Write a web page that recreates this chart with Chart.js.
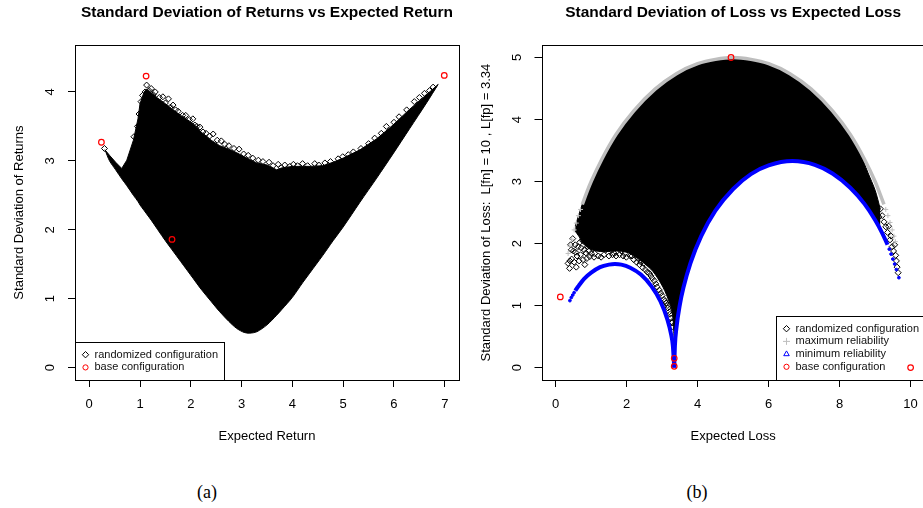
<!DOCTYPE html>
<html>
<head>
<meta charset="utf-8">
<script src="https://cdn.jsdelivr.net/npm/chart.js@4.4.1/dist/chart.umd.min.js"></script>
<style>
  html, body { margin: 0; padding: 0; background: #fff; overflow: hidden; width: 923px; height: 508px; }
  canvas { position: absolute; top: 0; }
  #ret { left: 0; }
  #loss { left: 470px; }
  .cap { position: absolute; top: 481px; width: 60px; margin-left: -30px; text-align: center;
         font-family: "Liberation Serif", "DejaVu Serif", serif; font-size: 18px; line-height: 22px; color: #000; }
</style>
</head>
<body>
<canvas id="ret" width="470" height="460"></canvas>
<canvas id="loss" width="460" height="460"></canvas>
<div class="cap" style="left:207px">(a)</div>
<div class="cap" style="left:697px">(b)</div>
<script>
// ---- (a) returns ----
const retTicksX = [0, 1, 2, 3, 4, 5, 6, 7];
const retTicksY = [0, 1, 2, 3, 4];
// outline of the dense cloud of randomized configurations (upper and lower edge at the same x)
const retCloudX = [0.31, 0.40, 0.52, 0.64, 0.74, 0.87, 0.96, 1.00, 1.08, 1.13, 1.22, 1.35, 1.50, 1.62, 1.80,
  2.05, 2.20, 2.40, 2.57, 2.75, 2.90, 3.05, 3.16, 3.30, 3.50, 3.69, 3.80, 4.00, 4.20, 4.34,
  4.60, 4.80, 5.00, 5.33, 5.66, 5.98, 6.31, 6.64, 6.87];
const retCloudTop = [3.16, 3.08, 2.98, 2.89, 3.01, 3.30, 3.61, 3.83, 4.00, 4.04, 3.99, 3.91, 3.83, 3.76, 3.66,
  3.54, 3.42, 3.30, 3.22, 3.17, 3.12, 3.06, 3.02, 2.97, 2.94, 2.87, 2.90, 2.92, 2.92, 2.92,
  2.93, 2.98, 3.04, 3.16, 3.32, 3.52, 3.75, 3.96, 4.11];
const retCloudBottom = [3.16, 3.00, 2.87, 2.74, 2.64, 2.50, 2.41, 2.36, 2.28, 2.23, 2.14, 2.00, 1.84, 1.72, 1.54,
  1.29, 1.14, 0.96, 0.81, 0.67, 0.57, 0.51, 0.50, 0.52, 0.62, 0.76, 0.85, 1.02, 1.23, 1.37,
  1.63, 1.84, 2.04, 2.40, 2.75, 3.10, 3.47, 3.84, 4.11];
// loose points along the ragged top of the cloud
const retFringeX = [0.30, 0.88, 0.95, 0.98, 1.02, 1.05, 1.10, 1.13, 1.18, 1.22, 1.26, 1.30, 1.38, 1.45, 1.50,
  1.56, 1.60, 1.65, 1.70, 1.75, 1.84, 1.90, 1.97, 2.04, 2.08, 2.12, 2.18, 2.24, 2.30, 2.37, 2.44,
  2.52, 2.60, 2.67, 2.75, 2.85, 2.95, 3.04, 3.13, 3.22, 3.33, 3.42, 3.54, 3.62, 3.72, 3.78, 3.85,
  3.95, 4.02, 4.10, 4.20, 4.30, 4.44, 4.52, 4.64, 4.75, 4.90, 4.99, 5.10, 5.20, 5.35, 5.50, 5.62,
  5.75, 5.85, 6.00, 6.10, 6.25, 6.40, 6.50, 6.60, 6.70, 6.77];
const retFringeY = [3.18, 3.35, 3.50, 3.68, 3.86, 3.95, 4.00, 4.10, 4.02, 4.05, 3.96, 4.00, 3.92, 3.93, 3.84,
  3.90, 3.78, 3.81, 3.74, 3.72, 3.66, 3.66, 3.60, 3.61, 3.52, 3.50, 3.49, 3.42, 3.40, 3.36, 3.39,
  3.30, 3.29, 3.24, 3.22, 3.18, 3.17, 3.10, 3.08, 3.04, 3.01, 2.99, 2.98, 2.93, 2.95, 2.90, 2.94,
  2.92, 2.95, 2.93, 2.96, 2.93, 2.96, 2.94, 2.97, 2.99, 3.03, 3.06, 3.09, 3.13, 3.18, 3.25, 3.33,
  3.40, 3.50, 3.56, 3.64, 3.74, 3.86, 3.92, 3.98, 4.02, 4.07];
const retBaseX = [0.24, 1.12, 1.63, 6.99];
const retBaseY = [3.27, 4.23, 1.86, 4.24];

// ---- (b) losses ----
const lossTicksX = [0, 2, 4, 6, 8, 10];
const lossTicksY = [0, 1, 2, 3, 4, 5];
const lossCloudX = [0.55, 0.65, 0.77, 0.95, 1.14, 1.40, 1.71, 2.00, 2.17, 2.45, 2.74, 3.02, 3.21, 3.30, 3.35,
  3.45, 3.60, 3.80, 4.00, 4.30, 4.60, 5.00, 5.50, 6.00, 6.67, 7.30, 7.80, 8.30, 8.55, 8.80, 9.00, 9.15];
const lossCloudTop = [2.28, 2.46, 2.67, 2.93, 3.18, 3.47, 3.77, 4.00, 4.12, 4.30, 4.46, 4.59, 4.67, 4.70, 4.72,
  4.75, 4.80, 4.85, 4.90, 4.95, 4.98, 5.00, 4.97, 4.90, 4.71, 4.44, 4.14, 3.76, 3.50, 3.14, 2.86, 2.55];
const lossCloudBottom = [2.20, 2.12, 2.00, 1.92, 1.88, 1.87, 1.88, 1.86, 1.81, 1.70, 1.55, 1.30, 1.04, 0.82, 0.45,
  0.85, 1.29, 1.69, 1.99, 2.34, 2.61, 2.88, 3.12, 3.26, 3.33, 3.27, 3.13, 2.90, 2.75, 2.56, 2.38, 2.22];
const lossFringeX = [0.35, 0.39, 0.40, 0.42, 0.44, 0.45, 0.48, 0.50, 0.52, 0.55, 0.56, 0.58, 0.60, 0.63, 0.66,
  0.68, 0.70, 0.72, 0.75, 0.77, 0.80, 0.82, 0.85, 0.88, 0.90, 0.93, 0.96, 1.00, 1.05, 1.08, 1.10,
  1.15, 1.20, 1.24, 1.28, 1.32, 1.36, 1.42, 1.46, 1.50, 1.55, 1.60, 1.65, 1.70, 1.75, 1.80, 1.85,
  1.90, 1.95, 1.99, 2.05, 2.10, 2.15, 2.20, 2.24, 2.28, 2.32, 2.36, 2.40, 2.45, 2.48, 2.52, 2.58,
  2.64, 2.68, 2.72, 2.78, 2.82, 2.86, 2.92, 2.96, 3.00, 3.05, 3.08, 3.11, 3.14, 3.16, 3.20, 3.22,
  3.24, 3.27, 3.28, 3.30,
  8.88, 8.95, 9.02, 9.11, 9.15, 9.20, 9.25, 9.30, 9.35, 9.38, 9.42, 9.45, 9.48, 9.52, 9.55, 9.58,
  9.60, 9.62, 9.65];
const lossFringeY = [1.68, 1.60, 1.72, 1.98, 1.90, 1.75, 2.08, 1.88, 1.70, 1.98, 1.86, 1.62, 1.80, 1.95, 1.72,
  2.02, 1.82, 1.93, 2.05, 1.74, 1.90, 1.66, 1.85, 1.76, 1.95, 1.88, 1.79, 1.84, 1.92, 1.78, 1.84,
  1.95, 1.80, 1.92, 1.78, 1.96, 1.82, 1.90, 1.97, 1.80, 1.90, 1.82, 1.84, 1.80, 1.96, 1.82, 1.88,
  1.80, 1.84, 1.78, 1.92, 1.80, 1.80, 1.74, 1.84, 1.70, 1.76, 1.66, 1.70, 1.61, 1.68, 1.58, 1.54,
  1.52, 1.48, 1.44, 1.40, 1.35, 1.30, 1.25, 1.20, 1.16, 1.10, 1.07, 1.04, 1.00, 0.96, 0.90, 0.86,
  0.80, 0.74, 0.72, 0.66,
  2.59, 2.70, 2.52, 2.43, 2.56, 2.45, 2.35, 2.27, 2.18, 2.28, 2.06, 2.12, 1.95, 1.88, 1.98, 1.81,
  1.72, 1.62, 1.53];
const maxRelX = [0.75, 0.90, 1.00, 1.30, 1.70, 2.20, 2.80, 3.40, 4.00, 4.50, 5.00, 5.50, 6.00, 6.60, 7.20,
  7.80, 8.30, 8.70, 9.00, 9.25];
const maxRelY = [2.63, 2.86, 3.00, 3.36, 3.76, 4.14, 4.49, 4.74, 4.90, 4.97, 5.00, 4.97, 4.90, 4.74, 4.49,
  4.14, 3.76, 3.36, 3.00, 2.63];
const maxRelTailX = [0.35, 0.40, 0.45, 0.52, 0.58, 0.64, 0.70, 9.30, 9.36, 9.42, 9.48, 9.53, 9.57];
const maxRelTailY = [1.84, 1.96, 2.07, 2.22, 2.33, 2.45, 2.55, 2.55, 2.45, 2.34, 2.22, 2.12, 2.03];
const minRelAX = [0.55, 0.65, 0.80, 1.00, 1.25, 1.50, 1.67, 1.85, 2.10, 2.40, 2.70, 2.95, 3.15, 3.25, 3.30, 3.34];
const minRelAY = [1.24, 1.32, 1.43, 1.53, 1.62, 1.66, 1.67, 1.66, 1.61, 1.50, 1.31, 1.07, 0.77, 0.54, 0.36, 0.00];
const minRelBX = [3.34, 3.36, 3.40, 3.50, 3.60, 3.80, 4.10, 4.50, 5.00, 5.50, 6.00, 6.67, 7.30, 7.80, 8.30,
  8.70, 9.00, 9.20, 9.35];
const minRelBY = [0.00, 0.36, 0.63, 1.02, 1.29, 1.69, 2.12, 2.53, 2.88, 3.12, 3.26, 3.33, 3.27, 3.13, 2.90,
  2.64, 2.38, 2.17, 1.98];
const minRelTailX = [0.40, 0.44, 0.48, 0.52, 9.40, 9.45, 9.50, 9.55, 9.60, 9.67];
const minRelTailY = [1.08, 1.13, 1.17, 1.21, 1.91, 1.83, 1.75, 1.67, 1.58, 1.45];
const lossBaseX = [4.94, 0.13, 3.34, 3.34, 10.0];
const lossBaseY = [5.00, 1.14, 0.15, 0.02, 0.00];

Chart.defaults.font.family = '"Liberation Sans", Arial, Helvetica, sans-serif';
Chart.defaults.color = '#000';

function pts(xs, ys) {
  return xs.map((x, i) => ({x: x, y: ys[i]}));
}

// R style box round the plot region
const frameBox = {
  id: 'frameBox',
  afterDatasetsDraw(chart) {
    const {ctx, chartArea: a} = chart;
    const l = Math.round(a.left), t = Math.round(a.top);
    ctx.save();
    ctx.strokeStyle = '#000';
    ctx.lineWidth = 1;
    ctx.strokeRect(l + 0.5, t + 0.5, Math.round(a.right) - l, Math.round(a.bottom) - t);
    ctx.restore();
  }
};

// boxed legend sitting in a bottom corner of the plot, like legend("bottomleft") in R
const rLegend = {
  id: 'rLegend',
  beforeDatasetsDraw(chart, args, opts) {
    const {ctx, chartArea: a} = chart;
    const row = 12.7;
    ctx.save();
    ctx.font = '11px "Liberation Sans", Arial, sans-serif';
    const textW = Math.max(...opts.items.map(it => ctx.measureText(it.text).width));
    const w = Math.round(textW + 25), h = Math.round(row * (opts.items.length + 1));
    const x0 = Math.round(opts.corner === 'right' ? a.right - w : a.left);
    const y0 = Math.round(a.bottom - h);
    ctx.fillStyle = '#fff';
    ctx.fillRect(x0, y0, w, h);
    ctx.strokeStyle = '#000';
    ctx.lineWidth = 1;
    ctx.strokeRect(x0 + 0.5, y0 + 0.5, w, h);
    opts.items.forEach((it, i) => {
      const cy = y0 + row * (i + 1);
      ctx.strokeStyle = it.color;
      ctx.fillStyle = 'rgba(0,0,0,0)';
      ctx.lineWidth = 1;
      Chart.helpers.drawPoint(ctx, {pointStyle: it.style, radius: it.radius, borderWidth: 1, rotation: 0}, x0 + 10.5, cy);
      ctx.fillStyle = '#111';
      ctx.textAlign = 'left';
      ctx.textBaseline = 'middle';
      ctx.fillText(it.text, x0 + 19.5, cy);
    });
    ctx.restore();
  }
};

function xAxis(min, max, ticks, title) {
  return {
    type: 'linear', min: min, max: max,
    afterBuildTicks: s => { s.ticks = ticks.map(v => ({value: v})); },
    afterFit: s => { s.height = 80; },
    grid: {display: true, drawOnChartArea: false, drawTicks: true, tickLength: 7, color: '#000', lineWidth: 1},
    border: {display: false},
    ticks: {color: '#000', font: {size: 13}, padding: 10, maxRotation: 0, autoSkip: false},
    title: {display: true, text: title, color: '#000', font: {size: 13}, padding: {top: 0, bottom: 16}}
  };
}

function yAxis(min, max, ticks, title, width, titlePad) {
  return {
    type: 'linear', min: min, max: max,
    afterBuildTicks: s => { s.ticks = ticks.map(v => ({value: v})); },
    afterFit: s => { s.width = width; },
    grid: {display: true, drawOnChartArea: false, drawTicks: true, tickLength: 7, color: '#000', lineWidth: 1},
    border: {display: false},
    ticks: {color: '#000', font: {size: 13}, padding: 13.5, minRotation: 90, maxRotation: 90, crossAlign: 'center', autoSkip: false},
    title: {display: true, text: title, color: '#000', font: {size: 13}, padding: {top: titlePad, bottom: 0}}
  };
}

function baseOptions(title, padRight) {
  return {
    responsive: false,
    animation: false,
    events: [],
    layout: {padding: {left: 0, right: padRight, top: 0, bottom: 0}},
    plugins: {
      legend: {display: false},
      tooltip: {enabled: false},
      title: {display: true, fullSize: false, text: title, color: '#000',
        font: {size: 15.5, weight: 'bold'}, padding: {top: 3.5, bottom: 23}}
    }
  };
}

const hollow = 'rgba(0,0,0,0)';

const optA = baseOptions('Standard Deviation of Returns vs Expected Return', 11);
optA.scales = {
  x: xAxis(-0.28, 7.28, retTicksX, 'Expected Return'),
  y: yAxis(-0.18, 4.68, retTicksY, 'Standard Deviation of Returns', 75, 11.5)
};
optA.plugins.rLegend = {corner: 'left', items: [
  {text: 'randomized configuration', style: 'rectRot', color: '#000', radius: 3.2},
  {text: 'base configuration', style: 'circle', color: '#f00', radius: 2.6}
]};

new Chart(document.getElementById('ret'), {
  type: 'scatter',
  data: {datasets: [
    {label: 'randomized configuration', data: pts(retCloudX, retCloudTop), showLine: true, pointRadius: 0,
      borderColor: '#000', borderWidth: 1, backgroundColor: '#000', fill: '+1', order: 5},
    {label: 'randomized configuration (lower edge)', data: pts(retCloudX, retCloudBottom), showLine: true, pointRadius: 0,
      borderColor: '#000', borderWidth: 1, tension: 0.3, fill: false, order: 5},
    {label: 'randomized configuration', data: pts(retFringeX, retFringeY), pointStyle: 'rectRot', pointRadius: 3,
      pointBorderColor: '#000', pointBackgroundColor: hollow, pointBorderWidth: 1, order: 4},
    {label: 'base configuration', data: pts(retBaseX, retBaseY), pointStyle: 'circle', pointRadius: 2.8,
      pointBorderColor: '#f00', pointBackgroundColor: hollow, pointBorderWidth: 1.2, order: 1}
  ]},
  options: optA,
  plugins: [frameBox, rLegend]
});

const optB = baseOptions('Standard Deviation of Loss vs Expected Loss', 4);
optB.scales = {
  x: xAxis(-0.4, 10.4, lossTicksX, 'Expected Loss'),
  y: yAxis(-0.2, 5.2, lossTicksY, 'Standard Deviation of Loss:  L[fn] = 10 , L[fp] = 3.34', 71.5, 8.5)
};
optB.plugins.rLegend = {corner: 'right', items: [
  {text: 'randomized configuration', style: 'rectRot', color: '#000', radius: 3.2},
  {text: 'maximum reliability', style: 'cross', color: '#bebebe', radius: 3.5},
  {text: 'minimum reliability', style: 'triangle', color: '#00f', radius: 3.2},
  {text: 'base configuration', style: 'circle', color: '#f00', radius: 2.6}
]};

new Chart(document.getElementById('loss'), {
  type: 'scatter',
  data: {datasets: [
    {label: 'randomized configuration', data: pts(lossCloudX, lossCloudTop), showLine: true, pointRadius: 0,
      borderColor: '#000', borderWidth: 1, backgroundColor: '#000', tension: 0.3, fill: '+1', order: 6},
    {label: 'randomized configuration (lower edge)', data: pts(lossCloudX, lossCloudBottom), showLine: true, pointRadius: 0,
      borderColor: '#000', borderWidth: 1, tension: 0.3, fill: false, order: 6},
    {label: 'randomized configuration', data: pts(lossFringeX, lossFringeY), pointStyle: 'rectRot', pointRadius: 3,
      pointBorderColor: '#000', pointBackgroundColor: hollow, pointBorderWidth: 1, order: 5},
    {label: 'maximum reliability', data: pts(maxRelX, maxRelY), showLine: true, pointRadius: 0,
      borderColor: '#bebebe', borderWidth: 3.5, cubicInterpolationMode: 'monotone', fill: false, order: 4},
    {label: 'maximum reliability', data: pts(maxRelTailX, maxRelTailY), pointStyle: 'cross', pointRadius: 2.5,
      pointBorderColor: '#bebebe', pointBorderWidth: 1, order: 4},
    {label: 'minimum reliability', data: pts(minRelAX, minRelAY), showLine: true, pointRadius: 0,
      borderColor: '#0000ff', borderWidth: 4, cubicInterpolationMode: 'monotone', fill: false, order: 3},
    {label: 'minimum reliability', data: pts(minRelBX, minRelBY), showLine: true, pointRadius: 0,
      borderColor: '#0000ff', borderWidth: 4, cubicInterpolationMode: 'monotone', fill: false, order: 3},
    {label: 'minimum reliability', data: pts(minRelTailX, minRelTailY), pointStyle: 'circle', pointRadius: 1.4,
      pointBorderColor: '#0000ff', pointBackgroundColor: '#0000ff', pointBorderWidth: 1, order: 3},
    {label: 'base configuration', data: pts(lossBaseX, lossBaseY), pointStyle: 'circle', pointRadius: 2.8,
      pointBorderColor: '#f00', pointBackgroundColor: hollow, pointBorderWidth: 1.2, order: 1}
  ]},
  options: optB,
  plugins: [frameBox, rLegend]
});
</script>
</body>
</html>
